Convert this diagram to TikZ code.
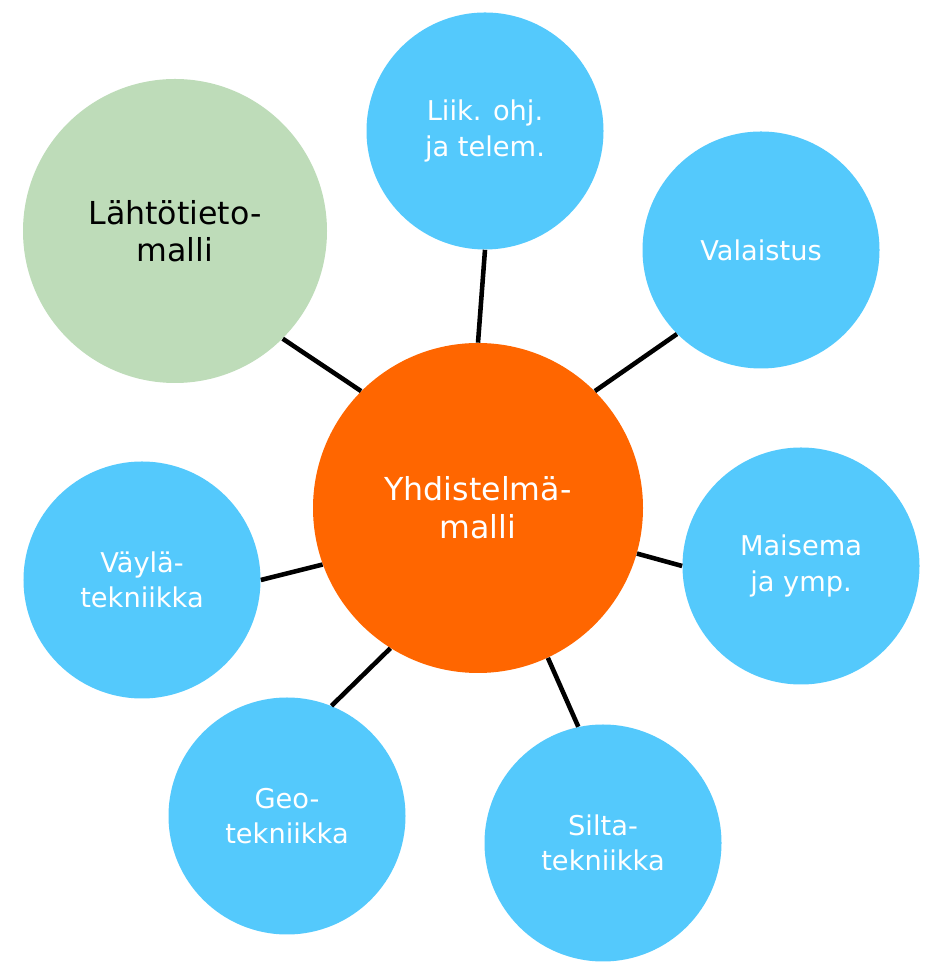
\documentclass[tikz,border=0pt]{standalone}
\usepackage{fontspec}
\setmainfont{DejaVu Sans}
\usepackage{tikz}
\usetikzlibrary{positioning}
\definecolor{hubcolor}{RGB}{255,102,0}
\definecolor{partcolor}{RGB}{84,201,252}
\definecolor{sourcecolor}{RGB}{190,220,185}

\begin{document}
\begin{tikzpicture}[
    hub/.style={circle, fill=hubcolor, minimum size=6.6cm, inner sep=0pt, text=white, align=center, font=\fontsize{18}{21.5}\selectfont},
    part/.style={circle, fill=partcolor, minimum size=4.74cm, inner sep=0pt, text=white, align=center, font=\fontsize{15.5}{20}\selectfont},
    source/.style={circle, fill=sourcecolor, minimum size=6.08cm, inner sep=0pt, text=black, align=center, font=\fontsize{18}{21}\selectfont},
    link/.style={line width=2.6pt, black}
]
    \useasboundingbox (0,0) rectangle (18.62,19.6);

    % Combined model
    \node[hub] (yhd) at (9.56,9.44) {Yhdistelmä-\\malli};

    % Source data model
    \node[source] (lahto) at (3.50,14.98) {Lähtötieto-\\malli};

    % Discipline models
    \node[part] (liik) at (9.70,16.98) {Liik. ohj.\\ja telem.};
    \node[part] (vala) at (15.22,14.60) {Valaistus};
    \node[part] (mais) at (16.02,8.28) {Maisema\\ja ymp.};
    \node[part] (silta) at (12.06,2.74) {Silta-\\tekniikka};
    \node[part] (geo) at (5.74,3.28) {Geo-\\tekniikka};
    \node[part] (vayla) at (2.84,8.00) {Väylä-\\tekniikka};

    % Links
    \draw[link] (yhd.135) -- (lahto.-45);
    \draw[link] (yhd.90) -- (liik.-90);
    \draw[link] (yhd.45) -- (vala.225);
    \draw[link] (yhd.-16.5) -- (mais.180);
    \draw[link] (yhd.295.6) -- (silta.102.4);
    \draw[link] (yhd.238) -- (geo.68.6);
    \draw[link] (yhd.200.7) -- (vayla.0);
\end{tikzpicture}
\end{document}
